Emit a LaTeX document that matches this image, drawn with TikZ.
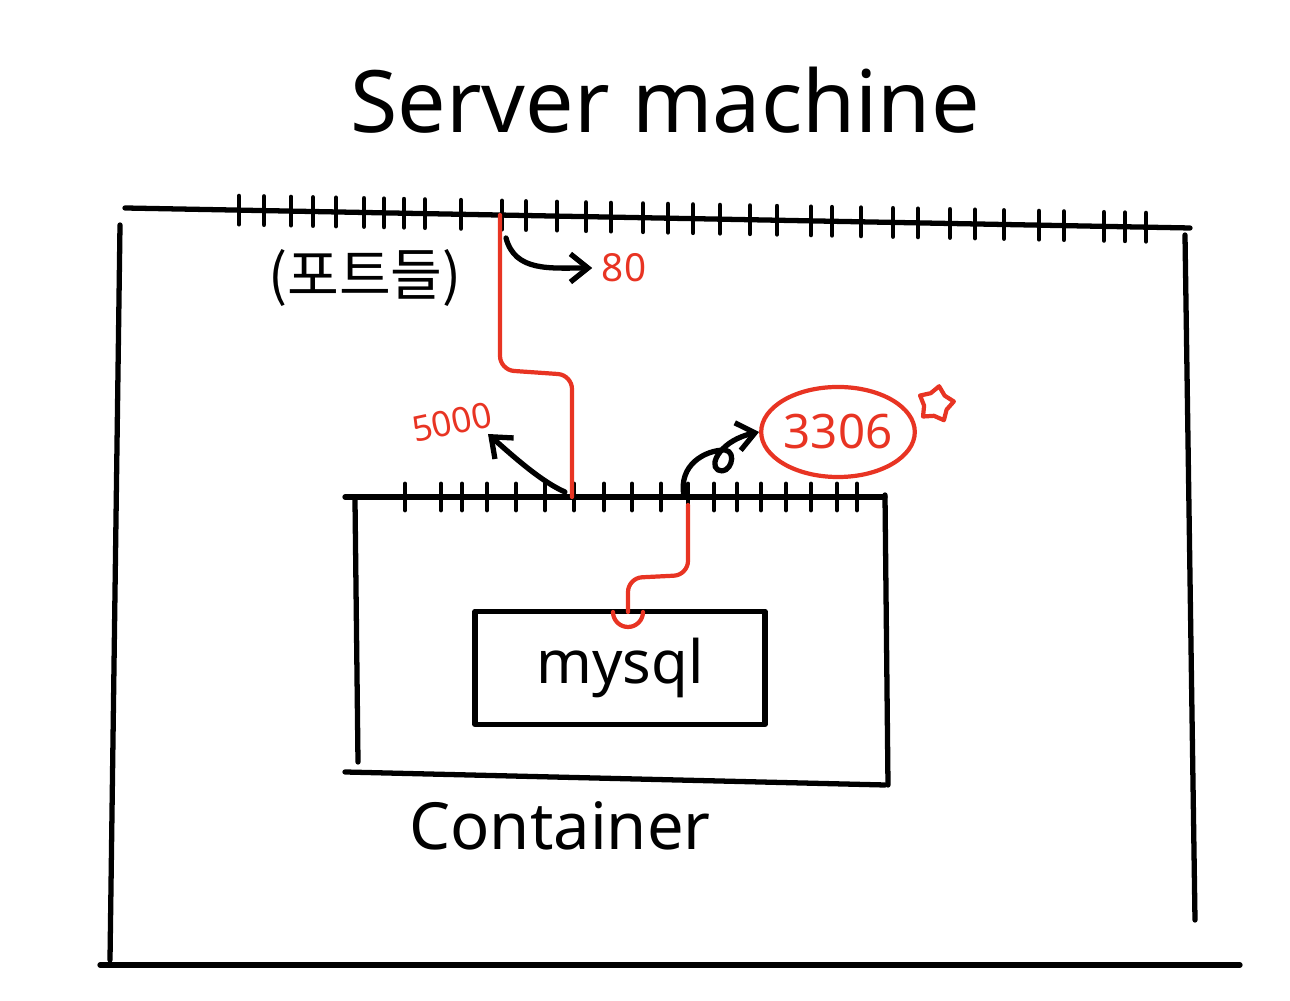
\documentclass[tikz,border=0pt]{standalone}
\usepackage{fontspec}
\setmainfont{Noto Sans}
\newfontfamily\krfont{Noto Sans CJK KR}
\usetikzlibrary{shapes.geometric,arrows.meta}
\definecolor{sketchred}{RGB}{232,52,35}

\begin{document}
\begin{tikzpicture}[x=0.01cm,y=-0.01cm,
    line width=1.5pt, line cap=round, line join=round,
    port/.style={sketchred, line width=1.2pt},
    tick/.style={line width=1.4pt},
    link/.style={-{Straight Barb[length=5pt,width=8pt]}, line width=1.5pt}]
    \useasboundingbox (0,0) rectangle (1290,1001);

    % server machine
    \node (title) at (665,100) {\fontsize{24.5}{30}\selectfont Server machine};
    \draw (125,208) -- (1190,228);
    \draw (120,225) -- (110,960);
    \draw (1185,235) -- (1195,920);
    \draw (100,965) -- (1240,965);
    \foreach \x in {239,264,291,313,336,364,384,404,425,461,502,526,557,586,611,643,668,693,720,750,777,811,832,861,893,918,950,975,1004,1039,1064,1104,1125,1146}
      \draw[tick] (\x,{208+(\x-125)/1065*20-14}) -- ++(0,28);
    \node (ports) at (365,278) {\krfont\fontsize{16}{20}\selectfont (포트들)};
    \node[sketchred, inner sep=2pt] (p80) at (624,268) {\fontsize{11}{13}\selectfont 80};

    \coordinate (hostport) at (500,215);
    \draw[link] (506,238) .. controls (515,272) and (550,268) .. (p80.west);

    % container
    \draw (345,497) -- (885,497);
    \draw (355,500) -- (358,762);
    \draw (885,495) -- (888,785);
    \draw (345,772) -- (885,785);
    \foreach \x in {405,441,462,487,516,545,574,604,632,661,688,714,737,761,786,811,837,857}
      \draw[tick] (\x,484) -- ++(0,26);
    \coordinate (webport) at (572,497);
    \coordinate (dbport) at (688,505);
    \draw[port, rounded corners=4pt] (hostport) -- (500,370) -- (572,375) -- (webport);

    \node[sketchred, rotate=12, inner sep=1pt] (p5000) at (452,422) {\fontsize{10}{12}\selectfont 5000};
    \coordinate (tip5000) at (488,434);
    \draw[link] (565,492) .. controls (542,482) and (515,458) .. (tip5000);

    \node[ellipse, draw=sketchred, port, text=sketchred, minimum width=1.5cm, minimum height=0.9cm, inner sep=0pt] (p3306) at (838,432) {\fontsize{13.5}{16}\selectfont 3306};
    \node[star, star points=5, draw=sketchred, port, minimum size=0.36cm, inner sep=0pt, rotate=-10] (star) at (936,404) {};
    \draw[link] (684,496) .. controls (678,465) and (705,450) .. (725,450)
      .. controls (738,452) and (730,476) .. (718,470)
      .. controls (708,464) and (722,440) .. (p3306.west);

    % mysql
    \node[draw, minimum width=2.9cm, minimum height=1.13cm] (mysql) at (620,668) {\fontsize{17}{20}\selectfont mysql};
    \draw[port, rounded corners=4pt] (dbport) -- (688,575) -- (628,578) -- (628,612);
    \draw[port] (613,612) arc[start angle=180, end angle=0, radius=15];

    \node (containerlabel) at (560,826) {\fontsize{18.5}{22}\selectfont Container};
\end{tikzpicture}
\end{document}
